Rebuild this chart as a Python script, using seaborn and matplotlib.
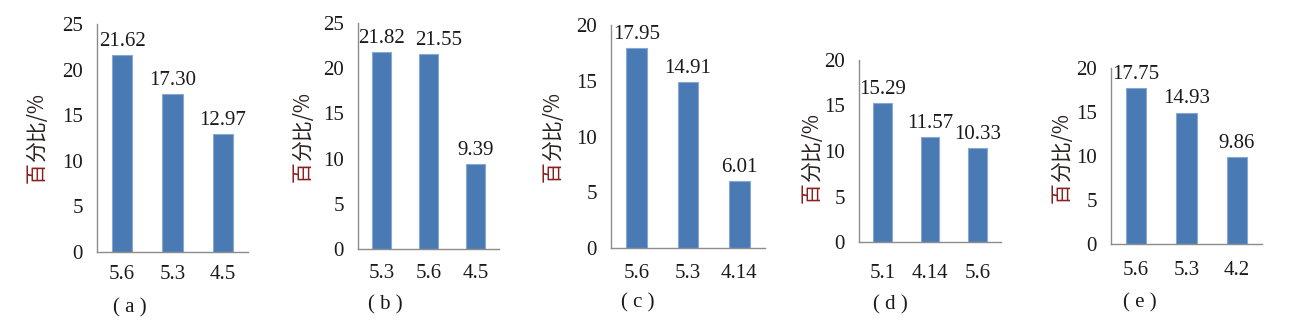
import matplotlib
matplotlib.use("Agg")
import matplotlib.pyplot as plt
import seaborn as sns
import pandas as pd

sns.set_style("white")
plt.rcParams["font.family"] = ["Liberation Serif", "DejaVu Serif"]

# Panel data: category labels and percentage values
cats_a = ["5.6", "5.3", "4.5"]
vals_a = [21.62, 17.30, 12.97]
cats_b = ["5.3", "5.6", "4.5"]
vals_b = [21.82, 21.55, 9.39]
cats_c = ["5.6", "5.3", "4.14"]
vals_c = [17.95, 14.91, 6.01]
cats_d = ["5.1", "4.14", "5.6"]
vals_d = [15.29, 11.57, 10.33]
cats_e = ["5.6", "5.3", "4.2"]
vals_e = [17.75, 14.93, 9.86]
panel_names = ["( a )", "( b )", "( c )", "( d )", "( e )"]
y_max = [25, 25, 20, 20, 20]

W, H = 1291, 322
fig = plt.figure(figsize=(W / 100, H / 100), dpi=100)

# axes boxes in pixels: left, right, top, bottom
boxes = [(97, 248, 24, 252), (358, 499, 23, 249), (611, 765, 25, 248),
         (859, 1001, 60, 242), (1111, 1262, 68, 244)]
ylabel_pos = [(37, 138), (303, 137), (553, 137), (812, 158), (1062, 158)]
title_pos = [(130, 308), (385, 305), (638, 303), (890, 305), (1140, 303)]
cat_label_y = [277, 276, 276, 276, 273]
# horizontal nudge (points) of value labels that would otherwise collide
label_nudge = {(1, 1): 7}

bar_color = "#4a7ab4"
edge_color = "#86a8d2"
axis_color = "#8c8c8c"
text_color = "#1a1a1a"
font_size = 15

datasets = [(cats_a, vals_a), (cats_b, vals_b), (cats_c, vals_c),
            (cats_d, vals_d), (cats_e, vals_e)]

ylabel_parts = []
for i, ((cats, vals), (l, r, t, b)) in enumerate(zip(datasets, boxes)):
    ax = fig.add_axes([l / W, (H - b) / H, (r - l) / W, (b - t) / H])
    df = pd.DataFrame({"cat": cats, "val": vals})
    sns.barplot(data=df, x="cat", y="val", order=cats, color=bar_color,
                width=0.4, edgecolor=edge_color, linewidth=0.8,
                saturation=1, ax=ax)
    ax.set_xlim(-0.5, 2.5)
    ax.set_ylim(0, y_max[i])
    ax.set_yticks(range(0, y_max[i] + 1, 5))
    ax.set_xlabel("")
    ax.set_ylabel("")
    for s in ["top", "right"]:
        ax.spines[s].set_visible(False)
    for s in ["left", "bottom"]:
        ax.spines[s].set_color(axis_color)
        ax.spines[s].set_linewidth(1.0)
    # category dividers on the x axis
    ax.set_xticks([0.5, 1.5, 2.5], minor=True)
    ax.tick_params(axis="x", which="minor", direction="in", length=5,
                   width=1.0, color=axis_color)
    pad_pt = (cat_label_y[i] - b - 12) / (100 / 72)
    ax.tick_params(axis="x", which="major", length=0, pad=pad_pt,
                   labelsize=font_size, labelcolor=text_color)
    ax.tick_params(axis="y", which="major", direction="out", length=3,
                   width=1.0, color=axis_color, pad=7,
                   labelsize=font_size, labelcolor=text_color)
    for j, patch in enumerate(ax.patches):
        xc = patch.get_x() + patch.get_width() / 2
        h = patch.get_height()
        ax.annotate(f"{h:.2f}", (xc, h),
                    xytext=(label_nudge.get((i, j), 0), 3),
                    textcoords="offset points", ha="center", va="bottom",
                    fontsize=font_size, color=text_color,
                    annotation_clip=False)

    tx, ty = title_pos[i]
    fig.text(tx / W, 1 - ty / H, panel_names[i], ha="center", va="center",
             fontsize=font_size, color=text_color)
    ylabel_parts.append(ylabel_pos[i])

# y axis label: first character in dark red, rest in near black
cjk = ["Noto Sans CJK SC", "DejaVu Sans"]
lab_size = 15
fig.canvas.draw()
renderer = fig.canvas.get_renderer()
for (cx, cy) in ylabel_parts:
    probe = fig.text(0, 0, "百分比/%", rotation=90, fontsize=lab_size,
                     family=cjk)
    full_h = probe.get_window_extent(renderer).height
    probe.remove()
    probe = fig.text(0, 0, "百", rotation=90, fontsize=lab_size, family=cjk)
    first_h = probe.get_window_extent(renderer).height
    probe.remove()
    y0 = (H - cy) - full_h / 2
    fig.text(cx / W, y0 / H, "百", rotation=90, fontsize=lab_size,
             family=cjk, color="#8b1e1e", ha="center", va="bottom")
    fig.text(cx / W, (y0 + first_h) / H, "分比/%", rotation=90,
             fontsize=lab_size, family=cjk, color="#2a2020",
             ha="center", va="bottom")

fig.savefig("out.png", dpi=100)
